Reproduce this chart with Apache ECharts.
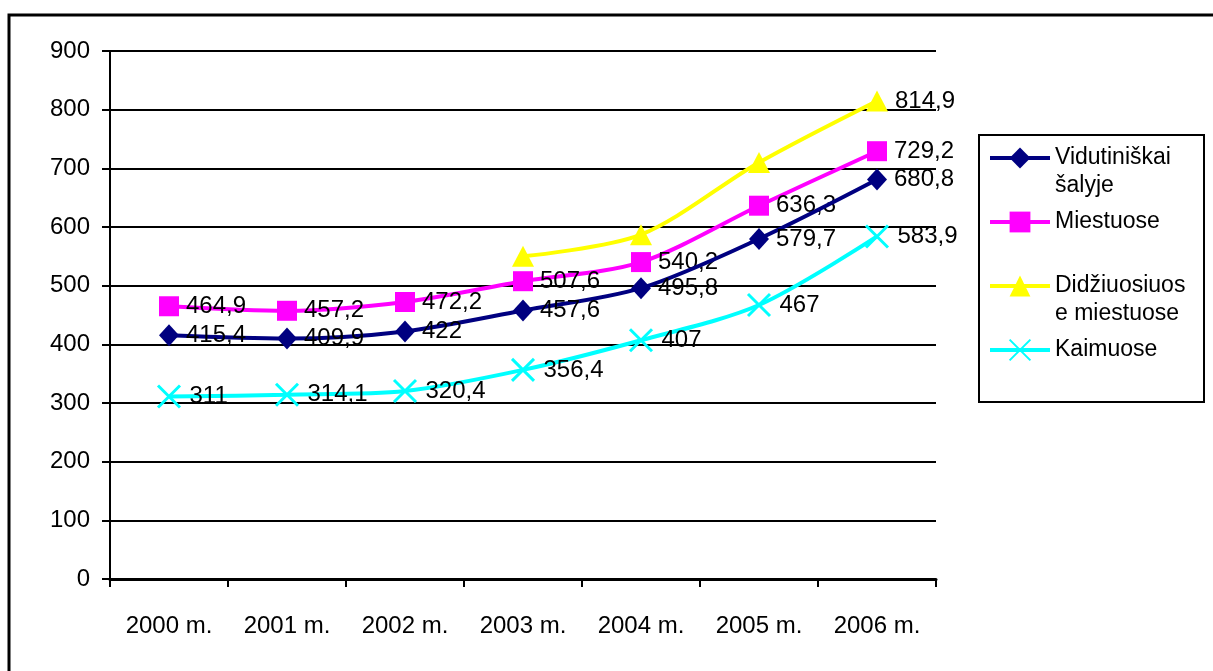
<!DOCTYPE html>
<html><head><meta charset="utf-8">
<script src="https://cdn.jsdelivr.net/npm/echarts@6/dist/echarts.min.js"></script>
<style>html,body{margin:0;padding:0;background:#fff}#c{width:1213px;height:671px}</style>
</head><body><div id="c"></div>
<script>
const categories = ['2000 m.', '2001 m.', '2002 m.', '2003 m.', '2004 m.', '2005 m.', '2006 m.'];
const vidutiniskai = [415.4, 409.9, 422, 457.6, 495.8, 579.7, 680.8];
const miestuose = [464.9, 457.2, 472.2, 507.6, 540.2, 636.3, 729.2];
const didziuosiuose = [null, null, null, 550, 587, 710, 814.9];
const kaimuose = [311, 314.1, 320.4, 356.4, 407, 467, 583.9];
const yTicks = [0, 100, 200, 300, 400, 500, 600, 700, 800, 900];
const labelledDidz = [false, false, false, false, false, false, true];
const seriesNames = ['Vidutiniškai\nšalyje', 'Miestuose', 'Didžiuosiuos\ne miestuose', 'Kaimuose'];

const FONT = '"Liberation Sans", Arial, sans-serif';
const LH = 28;
const fmt = v => String(v).replace('.', ',');
const chart = echarts.init(document.getElementById('c'), null, {renderer: 'canvas'});

function lbl(showFn) {
  return {
    show: true, position: 'right', distance: 7,
    fontFamily: FONT, fontSize: 24, color: '#000',
    formatter: p => showFn(p) ? fmt(p.value) : ''
  };
}

chart.setOption({
  animation: false,
  backgroundColor: '#fff',
  graphic: [
    {type: 'rect', shape: {x: 9, y: 15, width: 1230, height: 700},
     style: {fill: 'none', stroke: '#000', lineWidth: 3}, z: -1},
    {type: 'rect', shape: {x: 979, y: 135, width: 225, height: 267},
     style: {fill: 'none', stroke: '#000', lineWidth: 2}, z: -1}
  ],
  grid: {left: 110, top: 51, width: 826, height: 528},
  legend: {
    orient: 'vertical', left: 988, top: 116, padding: 0,
    itemWidth: 60, itemHeight: 26, itemGap: 8,
    lineStyle: {width: 4},
    textStyle: {fontFamily: FONT, fontSize: 23, color: '#000', lineHeight: LH},
    formatter: n => n.includes('\n') ? ' \n' + n : n,
    data: seriesNames
  },
  xAxis: {
    type: 'category', data: categories, boundaryGap: true,
    axisLine: {lineStyle: {color: '#000', width: 3}},
    axisTick: {show: true, length: 8, lineStyle: {color: '#000', width: 2}},
    axisLabel: {fontFamily: FONT, fontSize: 24, color: '#000', margin: 35},
    splitLine: {show: false}
  },
  yAxis: {
    type: 'value', min: 0, max: 900, interval: 100,
    axisLine: {show: true, lineStyle: {color: '#000', width: 2}},
    axisTick: {show: true, length: 8, lineStyle: {color: '#000', width: 2}},
    axisLabel: {fontFamily: FONT, fontSize: 24, color: '#000', margin: 20,
      formatter: v => yTicks.includes(v) ? String(v) : ''},
    splitLine: {show: true, lineStyle: {color: '#000', width: 2}}
  },
  series: [
    {name: seriesNames[0], type: 'line', data: vidutiniskai, smooth: 0.3,
     symbol: 'diamond', symbolSize: [20, 22], color: '#000080',
     lineStyle: {width: 4, color: '#000080'}, itemStyle: {color: '#000080'},
     label: lbl(() => true), z: 4},
    {name: seriesNames[1], type: 'line', data: miestuose, smooth: 0.3,
     symbol: 'rect', symbolSize: 20, color: '#ff00ff',
     lineStyle: {width: 4, color: '#ff00ff'}, itemStyle: {color: '#ff00ff'},
     label: lbl(() => true), z: 3},
    {name: seriesNames[2], type: 'line', data: didziuosiuose, smooth: 0.3,
     symbol: 'triangle', symbolSize: [22, 21], color: '#ffff00',
     lineStyle: {width: 4, color: '#ffff00'}, itemStyle: {color: '#ffff00'},
     label: lbl(p => labelledDidz[p.dataIndex]), z: 2},
    {name: seriesNames[3], type: 'line', data: kaimuose, smooth: 0.3,
     symbol: 'path://M0,0 L10,10 M10,0 L0,10', symbolSize: [22, 22], color: '#00ffff',
     lineStyle: {width: 4, color: '#00ffff'},
     itemStyle: {color: 'none', borderColor: '#00ffff', borderWidth: 3},
     label: lbl(() => true), z: 1}
  ]
});
</script>
</body></html>
